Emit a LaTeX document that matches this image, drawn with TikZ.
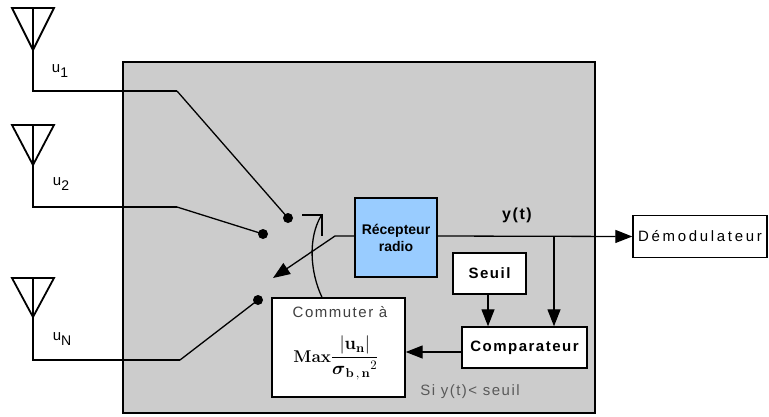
\RequirePackage{fix-cm}
\documentclass[tikz,border=0pt]{standalone}
\usepackage{amsmath}
\usepackage[no-math]{fontspec}
\setmainfont{Liberation Sans}
\newfontfamily\spc[LetterSpace=10]{Liberation Sans}
\newfontfamily\wspc[LetterSpace=18]{Liberation Sans}
\usetikzlibrary{arrows.meta}
\definecolor{panelgray}{HTML}{CCCCCC}
\definecolor{recblue}{HTML}{99CCFF}
\begin{document}
\begin{tikzpicture}[x=1pt,y=-1pt,
  wire/.style={line width=1.3pt},
  ant/.style={line width=1.8pt, line join=miter},
  boxn/.style={draw, line width=1.4pt, inner sep=0pt, fill=white},
  dot/.style={circle, fill=black, inner sep=0pt, minimum size=10pt},
  arr/.style={wire, -{Triangle[length=17pt,width=13pt]}},
  lbl/.style={inner sep=0pt, font=\spc\fontsize{15}{17}\selectfont}
]
\useasboundingbox (0,0) rectangle (769,416);
% panel
\node[draw, line width=1.5pt, fill=panelgray, minimum width=472pt, minimum height=351pt, inner sep=0pt] (panel) at (359,237.5) {};

% antennas
\draw[ant] (12,8) -- (54,8) -- (33,50) -- cycle;
\draw[ant] (12,125) -- (54,125) -- (33,165) -- cycle;
\draw[ant] (12,278) -- (54,278) -- (33,317) -- cycle;

% switch contacts
\node[dot] (d1) at (288,218) {};
\node[dot] (d2) at (263,234) {};
\node[dot] (d3) at (258,300) {};
\coordinate (k1) at (177,91);
\coordinate (k2) at (177,207);
\coordinate (k3) at (180,360);
\draw[ant] (33,8) -- (33,91) -- (k1);
\draw[ant] (33,125) -- (33,207) -- (k2);
\draw[ant] (33,278) -- (33,360) -- (k3);
\draw[wire] (k1) -- (d1.center);
\draw[wire] (k2) -- (d2.center);
\draw[wire] (k3) -- (d3.center);

\node[inner sep=0pt, font=\fontsize{15}{15}\selectfont] (u1) at (60,71) {u\raisebox{-5pt}{\fontsize{14}{14}\selectfont 1}};
\node[inner sep=0pt, font=\fontsize{15}{15}\selectfont] (u2) at (61,184) {u\raisebox{-5pt}{\fontsize{14}{14}\selectfont 2}};
\node[inner sep=0pt, font=\fontsize{15}{15}\selectfont] (uN) at (62,339) {u\raisebox{-5pt}{\fontsize{14}{14}\selectfont N}};

% boxes
\node[boxn, fill=recblue, minimum width=82pt, minimum height=79pt, align=center,
      font=\bfseries\fontsize{14}{17}\selectfont] (rec) at (396,237.5) {Récepteur\\radio};
\node[boxn, minimum width=134pt, minimum height=42pt, font=\wspc\fontsize{15}{17}\selectfont] (demod) at (700,236.5) {Démodulateur};
\node[boxn, minimum width=73pt, minimum height=41pt, font=\spc\bfseries\fontsize{15}{17}\selectfont] (seuil) at (489.5,273.5) {Seuil};
\node[boxn, minimum width=125pt, minimum height=41pt, font=\spc\bfseries\fontsize{15}{17}\selectfont] (comp) at (524.5,347.5) {Comparateur};
\node[boxn, minimum width=133pt, minimum height=99pt] (commut) at (338.5,347.5) {};
\node[lbl, text=black!75] (comtxt) at (340,312) {Commuter à};
\node[inner sep=0pt, font=\fontsize{17}{20}\selectfont] (formula) at (336,358)
  {$\mathbf{Max}\vcenter{\hbox{\scalebox{1.08}{$\dfrac{\,|\mathbf{u}_{\mathbf{n}}|\,}{{\boldsymbol{\sigma}_{\mathbf{b\,,\,n}}}^{2}}$}}}$};

\node[inner sep=0pt, font=\spc\bfseries\fontsize{16}{18}\selectfont] (yt) at (517,215) {y(t)};
\node[lbl, text=black!65] (si) at (470,392) {Si y(t)< seuil};

% switch bracket and mechanical link
\coordinate (b1) at (302,215);
\coordinate (b2) at (322,215);
\coordinate (b3) at (322,236);
\draw[wire] (b1) -- (b2) -- (b3);
\coordinate (a1) at (321,216);
\draw[wire] (a1) .. controls (308,238) and (310,272) .. (commut.north -| 322,0);

% receiver output to switch
\coordinate (rk) at (335,236);
\coordinate (rtip) at (273,278);
\draw[arr] (rec.west |- rk) -- (rk) -- (rtip);

% y(t) line
\coordinate (br) at (554,236);
\draw[arr] (rec.east |- br) -- (demod.west);
\draw[arr] (br) -- (br |- comp.north);
\draw[arr] (seuil.south -| 488,0) -- (comp.north -| 488,0);
\draw[arr] (comp.west |- 0,352) -- (commut.east |- 0,352);
\end{tikzpicture}
\end{document}
